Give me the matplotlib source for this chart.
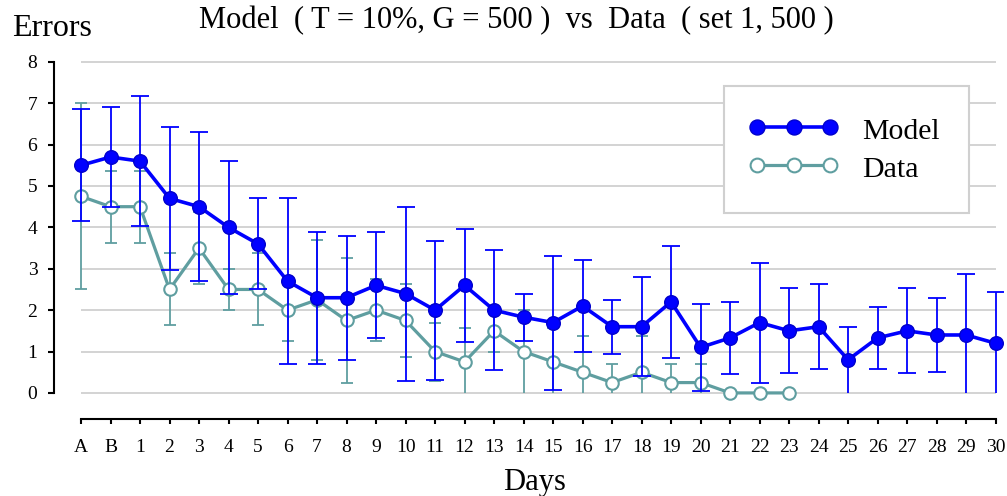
import numpy as np
import matplotlib
matplotlib.use('Agg')
import matplotlib.pyplot as plt
from matplotlib.legend_handler import HandlerLine2D

plt.rcParams['font.family'] = ['Liberation Serif', 'DejaVu Serif']

# x categories
days = ['A', 'B'] + [str(i) for i in range(1, 31)]

# model series (A .. 30)
model_vals = [5.5, 5.7, 5.6, 4.7, 4.5, 4.0, 3.6, 2.7, 2.3, 2.3, 2.6, 2.4, 2.0, 2.6, 2.0, 1.83,
              1.7, 2.1, 1.6, 1.6, 2.2, 1.1, 1.33, 1.7, 1.5, 1.6, 0.8, 1.33, 1.5, 1.4, 1.4, 1.2]
model_err = [1.35, 1.2, 1.57, 1.73, 1.8, 1.6, 1.1, 2.0, 1.6, 1.5, 1.28, 2.1, 1.68, 1.37, 1.45, 0.57,
             1.62, 1.1, 0.65, 1.2, 1.36, 1.05, 0.87, 1.45, 1.03, 1.03, 0.8, 0.75, 1.03, 0.9, 1.48, 1.23]

# data series (A .. 23)
data_vals = [4.75, 4.5, 4.5, 2.5, 3.5, 2.5, 2.5, 2.0, 2.25, 1.75, 2.0, 1.75, 1.0, 0.75, 1.5, 1.0,
             0.75, 0.5, 0.25, 0.5, 0.25, 0.25, 0, 0, 0]
data_err = [2.25, 0.87, 0.87, 0.87, 0.87, 0.5, 0.87, 0.75, 1.45, 1.5, 0.75, 0.87, 0.7, 0.82, 0.5, 1.0,
            0.82, 0.87, 0.45, 0.87, 0.45, 0.45, 0, 0, 0]

MODEL_C = '#0000ff'
DATA_C = '#5f9ea0'


def draw_errors(ax, vals, errs, color, capw, lw, z):
    # error bars clipped at zero; no cap where the bar got clipped
    x = np.arange(len(vals))
    v = np.array(vals, dtype=float)
    e = np.array(errs, dtype=float)
    hi = v + e
    lo = np.clip(v - e, 0, None)
    has = e > 0
    ax.vlines(x[has], lo[has], hi[has], color=color, linewidth=lw, zorder=z)
    ax.plot(x[has], hi[has], linestyle='none', marker='_', markersize=capw,
            markeredgewidth=lw, color=color, zorder=z)
    capped = has & (v - e > 0.001)
    ax.plot(x[capped], lo[capped], linestyle='none', marker='_', markersize=capw,
            markeredgewidth=lw, color=color, zorder=z)


fig = plt.figure(figsize=(10.07, 4.96), dpi=100)
ax = fig.add_axes([54 / 1007, 1 - 419 / 496, (1003 - 54) / 1007, (419 - 61) / 496])
ax.set_xlim(-0.915, 31.25)
ax.set_ylim(-0.63, 8.02)

# grid lines only across the data range
for yv in range(0, 9):
    ax.hlines(yv, 0, len(days) - 1, color='#d3d3d3', linewidth=1.4, zorder=0)

draw_errors(ax, data_vals, data_err, DATA_C, 9, 1.3, 2)
data_line, = ax.plot(np.arange(len(data_vals)), data_vals, color=DATA_C, linewidth=2.3,
                     marker='o', markersize=9, markerfacecolor='white', markeredgecolor=DATA_C,
                     markeredgewidth=1.5, zorder=3, label='Data')

draw_errors(ax, model_vals, model_err, MODEL_C, 12.5, 1.3, 4)
model_line, = ax.plot(np.arange(len(model_vals)), model_vals, color=MODEL_C, linewidth=2.6,
                      marker='o', markersize=9.8, markerfacecolor=MODEL_C, markeredgecolor='#0000cc',
                      markeredgewidth=1.0, zorder=5, label='Model')

ax.set_xticks(np.arange(len(days)))
ax.set_xticklabels(days)
ax.set_yticks(range(0, 9))

for s in ['top', 'right']:
    ax.spines[s].set_visible(False)
ax.spines['left'].set_bounds(0, 8)
ax.spines['bottom'].set_bounds(0, len(days) - 1)
ax.spines['left'].set_linewidth(1.5)
ax.spines['bottom'].set_linewidth(1.5)
ax.tick_params(axis='x', direction='out', length=3.5, width=1.5, pad=11, labelsize=14)
ax.tick_params(axis='y', direction='out', length=4, width=1.5, pad=8, labelsize=14)

hmap = {model_line: HandlerLine2D(marker_pad=0.1), data_line: HandlerLine2D(marker_pad=0.1)}
leg = ax.legend([model_line, data_line], ['Model', 'Data'], loc='upper left',
                bbox_to_anchor=(724.3 / 1007, 1 - 85.7 / 496), bbox_transform=fig.transFigure,
                fontsize=21.5, numpoints=3, handlelength=2.65, handletextpad=0.96,
                handleheight=1.0, borderpad=1.0, labelspacing=0.27, fancybox=False,
                framealpha=1, borderaxespad=0, markerscale=1.1, handler_map=hmap)
leg.get_frame().set_edgecolor('#d0d0d0')
leg.get_frame().set_linewidth(1.5)

fig.text(516 / 1007, 1 - 28.3 / 496, 'Model  ( T = 10%, G = 500 )  vs  Data  ( set 1, 500 )',
         ha='center', va='baseline', fontsize=22)
fig.text(11.7 / 1007, 1 - 36 / 496, 'Errors', ha='left', va='baseline', fontsize=23)
fig.text(535 / 1007, 1 - 490 / 496, 'Days', ha='center', va='baseline', fontsize=22)

fig.savefig('out.png', dpi=100)
